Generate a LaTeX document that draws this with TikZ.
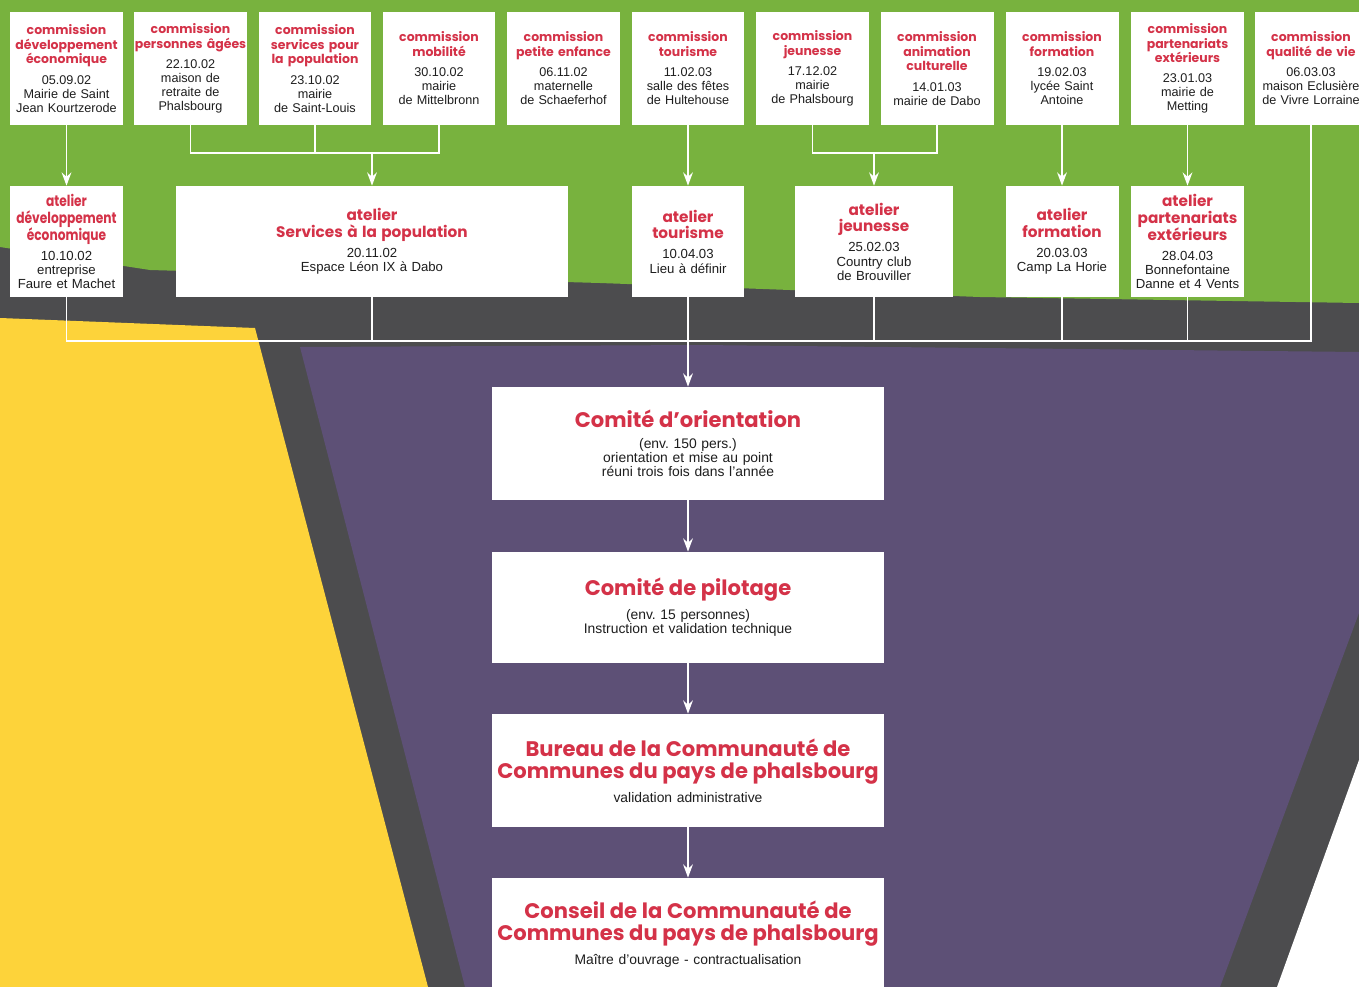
\documentclass[tikz,border=0pt]{standalone}
\usepackage{fontspec}
\setmainfont{Liberation Sans}
\newfontfamily\titlefont{Poppins}[WordSpace=0.8]
\newfontfamily\titlecond{Poppins}[FakeStretch=0.8,WordSpace=0.8]
\usetikzlibrary{arrows.meta}
\definecolor{leaf}{RGB}{120,178,62}
\definecolor{slate}{RGB}{76,76,78}
\definecolor{plum}{RGB}{93,80,118}
\definecolor{sun}{RGB}{253,211,58}
\definecolor{titlered}{RGB}{212,50,72}
\definecolor{ink}{RGB}{30,30,30}
\newcommand\tfam{\titlefont}
\newcommand\tsz{\fontsize{7.1}{8.3}}
\newcommand\hd[1]{{\tfam\bfseries\tsz\selectfont\lineskiplimit=-5pt\color{titlered}#1\par}\vskip3.5pt}
\frenchspacing
\begin{document}
\begin{tikzpicture}[x=0.02cm,y=-0.02cm,
box/.style={fill=white,inner sep=0pt,align=center,text=ink},
comm/.style={box,text width=2.26cm,minimum height=2.26cm,font=\fontsize{7.2}{8}\selectfont},
atel/.style={box,text width=2.26cm,minimum height=2.22cm,font=\fontsize{7.5}{8}\selectfont\def\tsz{\fontsize{8.7}{9.5}}},
board/.style={box,text width=7.86cm,minimum height=2.26cm,font=\fontsize{7.9}{8.2}\selectfont\def\tsz{\fontsize{12}{12.5}}},
conn/.style={draw=white,line width=1.1pt},
arr/.style={-{Stealth[length=7.5pt,width=5.5pt]}}]
\useasboundingbox(0,0)rectangle(1359,987);
\clip(0,0)rectangle(1359,987);
\fill[slate](0,0)rectangle(1359,987);
\fill[leaf](0,0)--(1359,0)--(1359,303)--(980,297)--(600,283)--(150,270)--(0,247)--cycle;
\fill[sun](0,318)--(255,328)--(428,987)--(0,987)--cycle;
\fill[plum](300,347)--(700,345)--(1359,352)--(1359,613)--(1220,987)--(465,987)--cycle;
\fill[white](1359,760)--(1277,987)--(1359,987)--cycle;
\foreach \n/\x/\ttl/\txt in {
1/66.5/{commission\\développement\\économique}/{05.09.02\\Mairie de Saint\\Jean Kourtzerode},
2/190.5/{commission\\personnes âgées}/{22.10.02\\maison de\\retraite de\\Phalsbourg},
3/315/{commission\\services pour\\la population}/{23.10.02\\mairie\\de Saint-Louis},
4/439/{commission\\mobilité}/{30.10.02\\mairie\\de Mittelbronn},
5/563.5/{commission\\petite enfance}/{06.11.02\\maternelle\\de Schaeferhof},
6/688/{commission\\tourisme}/{11.02.03\\salle des fêtes\\de Hultehouse},
7/812.5/{commission\\jeunesse}/{17.12.02\\mairie\\de Phalsbourg},
8/937/{commission\\animation\\culturelle}/{14.01.03\\mairie de Dabo},
9/1062/{commission\\formation}/{19.02.03\\lycée Saint\\Antoine},
10/1187.5/{commission\\partenariats\\extérieurs}/{23.01.03\\mairie de\\Metting},
11/1311/{commission\\qualité de vie}/{06.03.03\\maison Eclusière\\de Vivre Lorraine}}
{\node[comm](c\n)at(\x,68.5){\hd{\ttl}\txt};}
\node[atel,execute at begin node=\let\tfam\titlecond](a1)at(66.5,241.5){\hd{atelier\\développement\\économique}10.10.02\\entreprise\\Faure et Machet};
\node[atel,text width=7.86cm](a2)at(372,241.5){\hd{atelier\\Services à la population}20.11.02\\Espace Léon IX à Dabo};
\node[atel](a3)at(688,241.5){\hd{atelier\\tourisme}10.04.03\\Lieu à définir};
\node[atel,text width=3.18cm](a4)at(874,241.5){\hd{atelier\\jeunesse}25.02.03\\Country club\\de Brouviller};
\node[atel](a5)at(1062,241.5){\hd{atelier\\formation}20.03.03\\Camp La Horie};
\node[atel](a6)at(1187.5,241.5){\hd{atelier\\partenariats\\extérieurs}28.04.03\\Bonnefontaine\\Danne et 4 Vents};
\node[board](orient)at(688,443.5){\hd{Comité d’orientation}(env. 150 pers.)\\orientation et mise au point\\réuni trois fois dans l’année};
\node[board,minimum height=2.22cm](pilot)at(688,607.5){\hd{Comité de pilotage}(env. 15 personnes)\\Instruction et validation technique};
\node[board](bureau)at(688,770.5){\hd{Bureau de la Communauté de\\Communes du pays de phalsbourg}validation administrative};
\node[board](conseil)at(688,934.5){\hd{Conseil de la Communauté de\\Communes du pays de phalsbourg}Maître d’ouvrage - contractualisation};
\coordinate(m1)at(372,153);
\coordinate(m2)at(874,153);
\coordinate(bus)at(688,341);
\draw[conn](c2.south)|-(m1)(c4.south)|-(m1)(c3.south)--(c3.south|-m1);
\draw[conn](c7.south)|-(m2)(c8.south)|-(m2);
\draw[conn,arr](m1)--(a2);
\draw[conn,arr](m2)--(a4);
\foreach \u/\v in {c1/a1,c6/a3,c9/a5,c10/a6}{\draw[conn,arr](\u)--(\v);}
\draw[conn](a1.south)|-(bus)(c11.south)|-(bus);
\foreach \u in {a2,a4,a5,a6}{\draw[conn](\u.south)--(\u.south|-bus);}
\draw[conn,arr](a3)--(orient);
\foreach \u/\v in {orient/pilot,pilot/bureau,bureau/conseil}{\draw[conn,arr](\u)--(\v);}
\end{tikzpicture}
\end{document}
